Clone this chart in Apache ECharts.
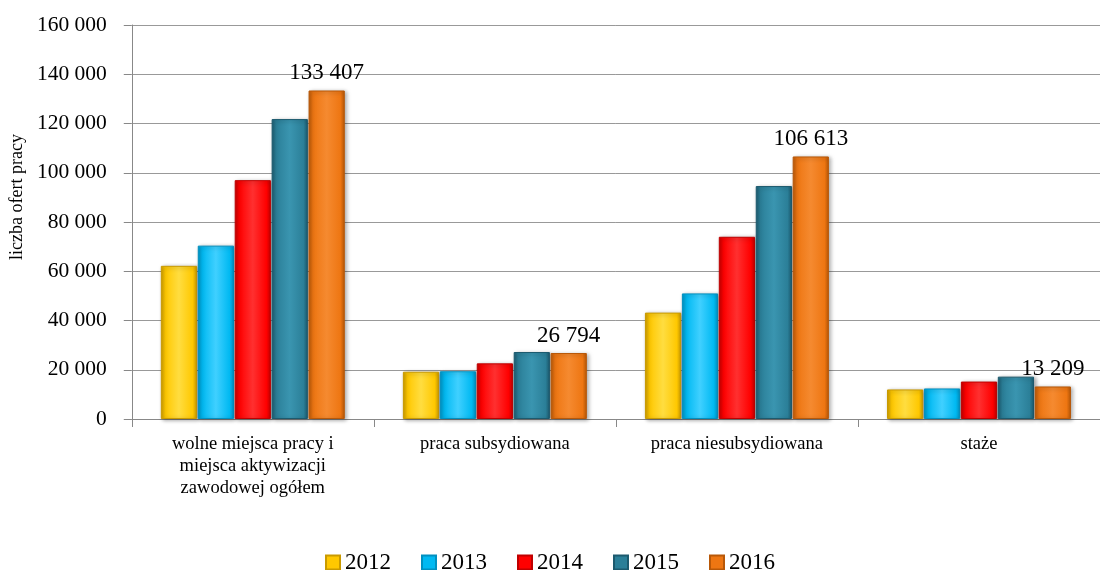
<!DOCTYPE html>
<html><head><meta charset="utf-8">
<script src="https://cdn.jsdelivr.net/npm/echarts@6/dist/echarts.min.js"></script>
<style>html,body{margin:0;padding:0;background:#fff}#c{width:1100px;height:570px}</style>
</head><body><div id="c"></div>
<script>
const categories = ['wolne miejsca pracy i\nmiejsca aktywizacji\nzawodowej ogółem', 'praca subsydiowana', 'praca niesubsydiowana', 'staże'];
const years = ['2012', '2013', '2014', '2015', '2016'];
const v2012 = [62200, 19200, 43200, 12000];
const v2013 = [70400, 19400, 51000, 12400];
const v2014 = [97000, 22600, 74000, 15200];
const v2015 = [121800, 27200, 94600, 17200];
const v2016 = [133407, 26794, 106613, 13209];
const yTicks = [0, 20000, 40000, 60000, 80000, 100000, 120000, 140000, 160000];
const values = [v2012, v2013, v2014, v2015, v2016];
const colors = ['#FFC800', '#00B9F2', '#FF0000', '#2B7F98', '#EE7612'];
const darks = ['#C99A00', '#0090C0', '#C00000', '#1C5A6E', '#B85808'];
const lights = ['#FFDD40', '#40D0FF', '#FF3030', '#3A95B0', '#F58A30'];

function fmt(v){ return String(v).replace(/\B(?=(\d{3})+(?!\d))/g, ' '); }

const serif = '"Liberation Serif", "DejaVu Serif", serif';
const chart = echarts.init(document.getElementById('c'));
chart.setOption({
  animation: false,
  textStyle: { fontFamily: serif },
  grid: { left: 128, right: 0, top: 25, bottom: 151 },
  legend: {
    top: 546, left: 'center', itemWidth: 14, itemHeight: 14, itemGap: 30,
    textStyle: { fontFamily: serif, fontSize: 23, color: '#000' },
    data: years.map((y,i)=>({name:y, icon:'rect', itemStyle:{color:colors[i]}}))
  },
  xAxis: {
    type: 'category', data: categories,
    axisLine: { lineStyle: { color: '#888' } },
    axisTick: { show: true, length: 8, lineStyle: { color: '#888' } },
    axisLabel: { fontFamily: serif, fontSize: 18.5, color: '#000', lineHeight: 22, margin: 14 }
  },
  yAxis: {
    type: 'value', min: 0, max: 160000, interval: 20000,
    name: 'liczba ofert pracy', nameLocation: 'middle', nameGap: 96,
    nameTextStyle: { fontFamily: serif, fontSize: 18, color: '#000', padding: [0, 0, 0, 50] },
    axisLine: { show: true, lineStyle: { color: '#888' } },
    axisTick: { show: true, length: 8, lineStyle: { color: '#888' } },
    splitLine: { lineStyle: { color: '#999', width: 1 } },
    axisLabel: { fontFamily: serif, fontSize: 21.5, color: '#000', margin: 25,
      formatter: v => yTicks.includes(v) ? fmt(v) : '' }
  },
  series: years.map((y, i) => ({
    name: y, type: 'bar', data: values[i],
    barGap: '2%', barCategoryGap: '24%',
    itemStyle: {
      color: new echarts.graphic.LinearGradient(0, 0, 1, 0, [
        {offset: 0, color: darks[i]}, {offset: 0.12, color: colors[i]},
        {offset: 0.5, color: lights[i]}, {offset: 0.88, color: colors[i]}, {offset: 1, color: darks[i]}
      ]),
      borderColor: darks[i], borderWidth: 1,
      shadowColor: 'rgba(0,0,0,0.35)', shadowBlur: 4, shadowOffsetX: 2, shadowOffsetY: 1
    },
    label: i === 4 ? { show: true, position: 'top', distance: 6, fontFamily: serif, fontSize: 23, color: '#000',
      formatter: p => fmt(p.value) } : { show: false }
  }))
});
</script></body></html>
